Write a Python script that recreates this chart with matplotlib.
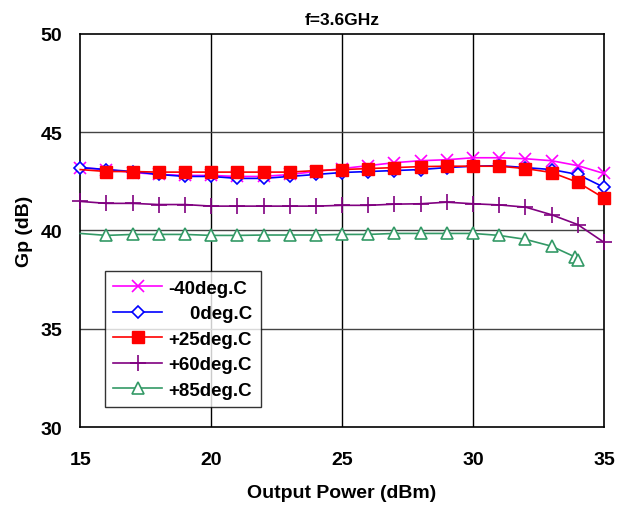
import numpy as np
import matplotlib.pyplot as plt

plt.rcParams['font.family'] = ['Liberation Sans', 'DejaVu Sans']
plt.rcParams['font.weight'] = 'bold'

pout = [15, 16, 17, 18, 19, 20, 21, 22, 23, 24, 25,
        26, 27, 28, 29, 30, 31, 32, 33, 34, 35]

gp_m40 = [43.2, 43.1, 42.95, 42.85, 42.8, 42.8, 42.75, 42.75, 42.85, 43.0, 43.15,
          43.3, 43.45, 43.55, 43.6, 43.7, 43.7, 43.65, 43.55, 43.3, 42.9]
gp_0 = [43.2, 43.1, 43.0, 42.85, 42.75, 42.75, 42.65, 42.65, 42.75, 42.85, 42.95,
        43.0, 43.05, 43.1, 43.2, 43.27, 43.3, 43.2, 43.1, 42.85, 42.2]
gp_25 = [43.1, 43.0, 43.0, 42.97, 42.97, 42.97, 42.97, 42.97, 42.97, 43.05, 43.1,
         43.15, 43.2, 43.25, 43.27, 43.27, 43.27, 43.15, 42.95, 42.45, 41.65]
gp_60 = [41.48, 41.38, 41.38, 41.32, 41.32, 41.24, 41.24, 41.24, 41.24, 41.24, 41.28,
         41.28, 41.34, 41.36, 41.44, 41.36, 41.3, 41.19, 40.8, 40.3, 39.4]

pout_85 = [15, 16, 17, 18, 19, 20, 21, 22, 23, 24, 25,
           26, 27, 28, 29, 30, 31, 32, 33, 33.9, 34.0]
gp_85 = [39.85, 39.75, 39.8, 39.8, 39.8, 39.75, 39.75, 39.77, 39.77, 39.77, 39.8,
         39.8, 39.85, 39.85, 39.85, 39.85, 39.75, 39.55, 39.2, 38.65, 38.5]

labels = ['-40deg.C', '    0deg.C', '+25deg.C', '+60deg.C', '+85deg.C']


def main():
    fig = plt.figure(figsize=(6.22, 5.06), dpi=100)
    ax = fig.add_axes([0.129, 0.154, 0.842, 0.777])

    ax.plot(pout, gp_m40, color='#FF00FF', marker='x', ms=9, mew=1.2, lw=1.2,
            clip_on=False, label=labels[0], zorder=3)
    ax.plot(pout, gp_0, color='#0000FF', marker='D', ms=6, mfc='white', mew=1.2,
            lw=1.2, clip_on=False, label=labels[1], zorder=3)
    ax.plot(pout, gp_25, color='#FF0000', marker='s', ms=8, lw=1.2,
            markevery=slice(1, None), clip_on=False, label=labels[2], zorder=4)
    ax.plot(pout, gp_60, color='#800080', marker='+', ms=11, mew=1.2, lw=1.2,
            clip_on=False, label=labels[3], zorder=3)
    ax.plot(pout_85, gp_85, color='#339966', marker='^', ms=9, mfc='white', mew=1.2,
            lw=1.2, markevery=slice(1, None), clip_on=False, label=labels[4], zorder=3)

    ax.set_xlim(15, 35)
    ax.set_ylim(30, 50)
    ax.set_xticks([15, 20, 25, 30, 35])
    ax.set_yticks([30, 35, 40, 45, 50])
    ax.tick_params(length=0, labelsize=14)
    ax.tick_params(axis='x', pad=17)
    ax.tick_params(axis='y', pad=13)

    for x in [20, 25, 30]:
        ax.axvline(x, color='black', lw=1.0, zorder=1)
    for y in [35, 40, 45]:
        ax.axhline(y, color='#444444', lw=1.0, zorder=1)
    for s in ax.spines.values():
        s.set_linewidth(1.2)

    ax.set_title('f=3.6GHz', fontsize=12.5, fontweight='bold', pad=7)
    ax.set_xlabel('Output Power (dBm)', fontsize=14, fontweight='bold', labelpad=12)
    ax.set_ylabel('Gp (dB)', fontsize=14, fontweight='bold', labelpad=5)

    leg = ax.legend(loc='lower left', bbox_to_anchor=(0.047, 0.05), fontsize=13.5,
                    frameon=True, fancybox=False, edgecolor='black',
                    handlelength=2.6, labelspacing=0.45, borderpad=0.45,
                    handletextpad=0.35, borderaxespad=0)
    leg.get_frame().set_linewidth(1.0)
    leg.set_zorder(5)

    plt.savefig('out.png', dpi=100)


if __name__ == '__main__':
    main()
